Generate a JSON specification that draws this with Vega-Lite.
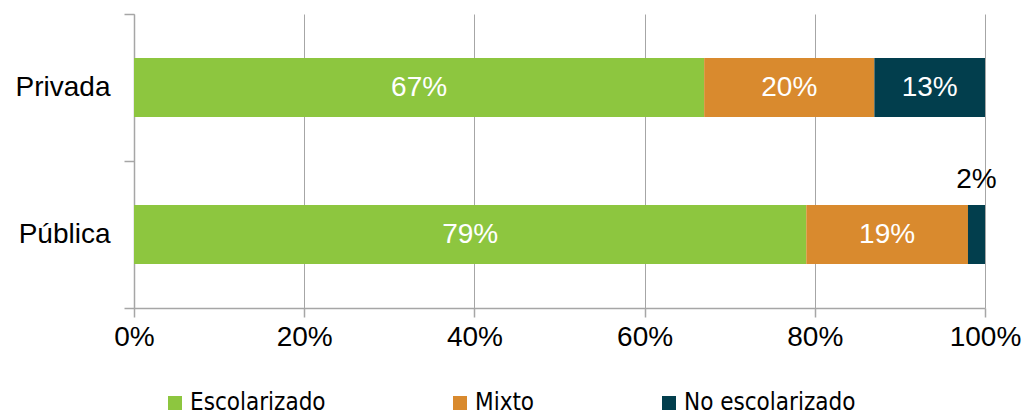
{
  "$schema": "https://vega.github.io/schema/vega-lite/v6.json",
  "width": 851,
  "height": 294,
  "autosize": {"type": "none"},
  "padding": {"left": 134, "top": 14, "right": 41, "bottom": 110},
  "background": "white",
  "config": {"view": {"stroke": null}, "font": "Liberation Sans"},
  "data": {"values": [
    {"sector": "Privada", "tipo": "Escolarizado", "pct": 0.67},
    {"sector": "Privada", "tipo": "Mixto", "pct": 0.20},
    {"sector": "Privada", "tipo": "No escolarizado", "pct": 0.13},
    {"sector": "Pública", "tipo": "Escolarizado", "pct": 0.79},
    {"sector": "Pública", "tipo": "Mixto", "pct": 0.19},
    {"sector": "Pública", "tipo": "No escolarizado", "pct": 0.02}
  ]},
  "transform": [
    {"stack": "pct", "groupby": ["sector"], "sort": [{"field": "tipo", "order": "ascending"}], "as": ["x0", "x1"]},
    {"calculate": "(datum.x0 + datum.x1) / 2", "as": "mid"}
  ],
  "encoding": {
    "y": {
      "field": "sector", "type": "nominal", "sort": ["Privada", "Pública"],
      "scale": {"paddingInner": 0, "paddingOuter": 0},
      "axis": {
        "title": null, "tickBand": "extent", "tickSize": 10, "tickColor": "#A6A6A6", "tickWidth": 1.5,
        "domainColor": "#A6A6A6", "domainWidth": 1.5, "labelFontSize": 28, "labelColor": "black",
        "labelPadding": 14, "grid": false, "labelFont": "Liberation Sans"
      }
    }
  },
  "layer": [
    {
      "mark": {"type": "bar", "height": {"band": 0.4}},
      "encoding": {
        "x": {
          "field": "x0", "type": "quantitative", "scale": {"domain": [0, 1], "nice": false},
          "axis": {
            "title": null, "values": [0, 0.2, 0.4, 0.6, 0.8, 1], "format": ".0%",
            "grid": true, "gridColor": "#A6A6A6", "gridWidth": 1,
            "domainColor": "#A6A6A6", "domainWidth": 1.5, "tickColor": "#A6A6A6", "tickWidth": 1.5,
            "tickSize": 9, "labelFontSize": 28, "labelColor": "black", "labelPadding": 6,
            "labelFont": "Liberation Sans", "labelFlush": false, "labelOverlap": false
          }
        },
        "x2": {"field": "x1"},
        "color": {
          "field": "tipo", "type": "nominal",
          "scale": {"domain": ["Escolarizado", "Mixto", "No escolarizado"], "range": ["#8DC63F", "#D98A2E", "#023E4D"]},
          "legend": {
            "title": null, "orient": "none", "legendX": 29, "legendY": 377, "direction": "horizontal",
            "symbolType": "square", "symbolSize": 196, "symbolStrokeWidth": 0, "symbolOpacity": 1,
            "labelFont": "DejaVu Sans Condensed", "labelFontSize": 24, "labelColor": "black",
            "labelOffset": 3, "columnPadding": 122, "labelLimit": 400
          }
        }
      }
    },
    {
      "transform": [{"filter": "datum.pct >= 0.05"}],
      "mark": {"type": "text", "color": "white", "fontSize": 28, "font": "Liberation Sans"},
      "encoding": {
        "x": {"field": "mid", "type": "quantitative"},
        "text": {"field": "pct", "type": "quantitative", "format": ".0%"}
      }
    },
    {
      "transform": [{"filter": "datum.pct < 0.05"}],
      "mark": {"type": "text", "color": "black", "fontSize": 28, "dy": -55, "font": "Liberation Sans"},
      "encoding": {
        "x": {"field": "mid", "type": "quantitative"},
        "text": {"field": "pct", "type": "quantitative", "format": ".0%"}
      }
    }
  ]
}
